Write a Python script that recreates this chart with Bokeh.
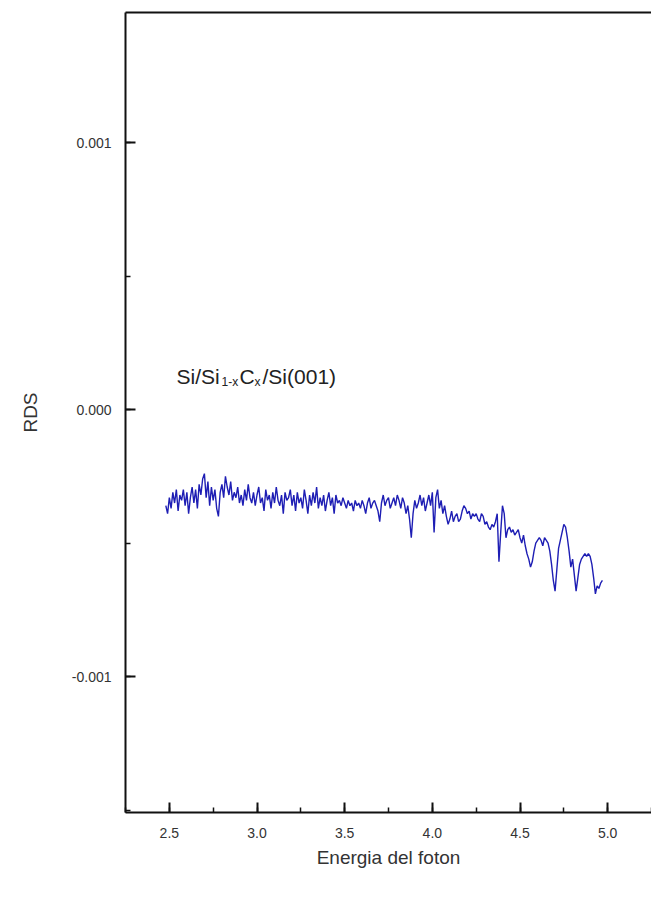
import numpy as np
from bokeh.plotting import figure
from bokeh.models import (Range1d, LinearAxis, SingleIntervalTicker, FixedTicker,
                          NumeralTickFormatter, Label, ColumnDataSource)
from bokeh.embed import file_html
from bokeh.resources import INLINE

# ---- data (RDS, in units of 1e-4) ----
energy_start = 2.48
energy_step = 0.01
rds_e4 = [
    -3.6, -3.9, -3.3, -3.7, -3.1, -3.5, -3.0, -3.8, -3.2, -3.4,
    -3.0, -3.6, -3.1, -3.9, -3.3, -2.9, -3.5, -3.0, -3.7, -2.8,
    -3.2, -2.6, -2.4, -3.3, -2.7, -3.6, -2.9, -3.4, -3.0, -3.7,
    -4.0, -3.1, -2.8, -3.3, -2.5, -2.9, -3.2, -2.7, -3.4, -3.1,
    -3.3, -2.9, -3.5, -3.2, -3.6, -3.0, -3.4, -2.8, -3.3, -3.5,
    -3.1, -3.6, -3.2, -2.9, -3.5, -3.3, -3.8, -3.0, -3.4, -3.2,
    -3.7, -3.1, -3.5, -2.9, -3.4, -3.6, -3.2, -3.9, -3.1, -3.4,
    -3.3, -3.0, -3.6, -3.2, -3.8, -3.1, -3.5, -3.3, -3.7, -3.0,
    -3.4, -3.9, -3.2, -3.6, -3.1, -3.5, -2.9, -3.7, -3.3, -3.6,
    -3.2, -3.8, -3.4, -3.1, -3.6, -3.3, -3.9, -3.2, -3.5, -3.4,
    -3.6, -3.3, -3.5, -3.7, -3.4, -3.6, -3.5, -3.8, -3.4, -3.6,
    -3.5, -3.7, -3.4, -3.6, -3.9, -3.5, -3.3, -3.7, -3.5, -3.4,
    -3.6, -3.8, -4.2, -3.5, -3.2, -3.6, -3.4, -3.3, -3.7, -3.5,
    -3.3, -3.6, -3.2, -3.4, -3.7, -3.3, -3.5, -3.9, -3.6, -4.1,
    -4.8, -3.9, -3.4, -3.7, -3.5, -3.2, -3.6, -3.3, -3.8, -3.5,
    -3.2, -3.6, -3.1, -4.6, -3.3, -3.0, -3.7, -3.4, -3.9, -3.6,
    -4.0, -4.3, -4.1, -3.8, -4.2, -4.0, -3.9, -4.2, -4.1, -3.8,
    -3.6, -3.7, -3.9, -3.8, -4.1, -3.9, -4.0, -3.9, -4.1, -4.2,
    -3.9, -4.0, -4.3, -4.2, -4.4, -4.5, -4.3, -4.4, -4.2, -3.9,
    -5.7, -4.6, -3.6, -3.9, -4.8, -4.5, -4.4, -4.6, -4.5, -4.7,
    -4.6, -4.5, -4.8, -5.0, -4.7, -5.1, -5.4, -5.6, -5.9, -5.7,
    -5.3, -5.0, -4.9, -4.8, -4.9, -5.1, -4.8, -4.9, -5.0, -5.3,
    -5.8, -6.4, -6.8, -6.0, -5.2, -4.9, -4.6, -4.3, -4.4, -4.8,
    -5.3, -5.9, -5.6, -6.2, -6.8, -6.3, -5.8, -5.6, -5.5, -5.4,
    -5.5, -5.4, -5.5, -5.8, -6.3, -6.9, -6.6, -6.7, -6.5, -6.4,
]
energy = np.round(energy_start + energy_step * np.arange(len(rds_e4)), 2)
rds = np.array(rds_e4) * 1e-4

x_label = "Energia del foton"
y_label = "RDS"
annotation_parts = ["Si/Si", "1-x", "C", "x", "/Si(001)"]

src = ColumnDataSource(dict(x=energy, y=rds))

p = figure(width=651, height=898, output_backend="svg", toolbar_location=None,
           x_range=Range1d(2.25, 5.25), y_range=Range1d(-0.001509, 0.001487),
           min_border_left=125, min_border_right=0, min_border_top=12,
           min_border_bottom=86)
p.outline_line_color = None
p.xgrid.visible = False
p.ygrid.visible = False
p.background_fill_color = "white"

p.line("x", "y", source=src, line_color="#1e1eb4", line_width=1.4)

font = "Liberation Sans"
for ax in (p.xaxis[0], p.yaxis[0]):
    ax.axis_line_width = 2
    ax.axis_line_color = "#111111"
    ax.major_tick_in = 10
    ax.major_tick_out = 0
    ax.minor_tick_in = 5
    ax.minor_tick_out = 0
    ax.major_tick_line_width = 2
    ax.major_tick_line_color = "#111111"
    ax.minor_tick_line_width = 1.5
    ax.minor_tick_line_color = "#111111"
    ax.major_label_text_font = font
    ax.major_label_text_font_size = "14px"
    ax.major_label_text_color = "#333333"
    ax.axis_label_text_font = font
    ax.axis_label_text_font_size = "19px"
    ax.axis_label_text_font_style = "normal"
    ax.axis_label_text_color = "#333333"

p.xaxis[0].ticker = SingleIntervalTicker(interval=0.5, num_minor_ticks=2)
p.xaxis[0].formatter = NumeralTickFormatter(format="0.0")
p.xaxis[0].major_label_standoff = 15
p.xaxis[0].axis_label = x_label
p.xaxis[0].axis_label_standoff = 6

p.yaxis[0].ticker = SingleIntervalTicker(interval=0.001, num_minor_ticks=2)
p.yaxis[0].formatter = NumeralTickFormatter(format="0.000")
p.yaxis[0].major_label_standoff = 14
p.yaxis[0].axis_label = y_label
p.yaxis[0].axis_label_standoff = 28

top = LinearAxis(ticker=FixedTicker(ticks=[]), axis_line_width=2,
                 axis_line_color="#111111",
                 major_tick_line_color=None, minor_tick_line_color=None)
p.add_layout(top, "above")

# annotation with subscripts
ax0, ay0 = 2.541, 1.25e-4
big, small = 21, 12
offsets = [0, 45, 63, 78, 86]
sizes = [big, small, big, small, big]
yoffs = [0, -6, 0, -6, 0]
for txt, off, sz, yo in zip(annotation_parts, offsets, sizes, yoffs):
    p.add_layout(Label(x=ax0, y=ay0, x_offset=off, y_offset=yo, text=txt,
                       text_font=font, text_font_size=f"{sz}px",
                       text_color="#222222", text_baseline="alphabetic"))

open("out.html", "w").write(file_html(p, INLINE))
